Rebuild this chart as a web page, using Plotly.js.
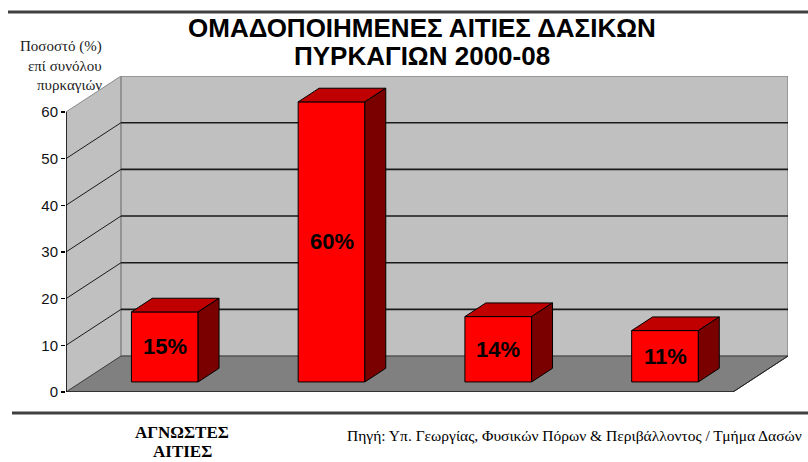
<!DOCTYPE html>
<html>
<head>
<meta charset="utf-8">
<script src="https://cdn.plot.ly/plotly-3.0.1.min.js"></script>
<style>html,body{margin:0;padding:0;background:#fff;}#chart{width:808px;height:462px;}</style>
</head>
<body>
<div id="chart"></div>
<script>
// ---- data ----
const categories = ["ΑΓΝΩΣΤΕΣ<br>ΑΙΤΙΕΣ", "", "", ""];
const values = [15, 60, 14, 11];
const valueLabels = ["15%", "60%", "14%", "11%"];
const yTicks = [0, 10, 20, 30, 40, 50, 60];
const titleLines = ["ΟΜΑΔΟΠΟΙΗΜΕΝΕΣ ΑΙΤΙΕΣ ΔΑΣΙΚΩΝ", "ΠΥΡΚΑΓΙΩΝ 2000-08"];
const yTitleLines = ["Ποσοστό (%)", "επί συνόλου", "πυρκαγιών"];
const sourceText = "Πηγή: Υπ. Γεωργίας, Φυσικών Πόρων & Περιβάλλοντος / Τμήμα Δασών";

// ---- geometry / style ----
const W = 808, H = 462, ML = 66, MR = 20, MT = 76, MB = 70;
const PW = W - ML - MR, PH = H - MT - MB;
const N = values.length;
const YMAX = yTicks[yTicks.length - 1];
const DX = 0.33, DY = 7.7;      // depth projection (x in category units, y in %)
const F0 = 0.28, F1 = 0.66;     // bar front/back depth fractions
const BW = 0.40;                // bar width in category units
const px = x => (x - ML) / PW;
const py = y => (H - MB - y) / PH;
const SANS = "Liberation Sans, Arial, sans-serif";
const SERIF = "Liberation Serif, Times New Roman, serif";

const shapes = [];
// left wall
shapes.push({type: "path", xref: "x", yref: "y", layer: "below",
  path: `M0,0 L${DX},${DY} L${DX},${YMAX + DY} L0,${YMAX} Z`,
  fillcolor: "#c0c0c0", line: {color: "#8a8a8a", width: 1}});
// back wall
shapes.push({type: "rect", xref: "x", yref: "y", layer: "below",
  x0: DX, x1: N + DX, y0: DY, y1: YMAX + DY,
  fillcolor: "#c0c0c0", line: {color: "#8a8a8a", width: 1.5}});
// floor
shapes.push({type: "path", xref: "x", yref: "y", layer: "below",
  path: `M0,0 L${N},0 L${N + DX},${DY} L${DX},${DY} Z`,
  fillcolor: "#808080", line: {color: "#404040", width: 1}});
// gridlines
yTicks.filter(v => v > 0 && v < YMAX).forEach(v => {
  shapes.push({type: "line", xref: "x", yref: "y", layer: "below",
    x0: DX, x1: N + DX, y0: v + DY, y1: v + DY, line: {color: "#1a1a1a", width: 1.6}});
  shapes.push({type: "line", xref: "x", yref: "y", layer: "below",
    x0: 0, x1: DX, y0: v, y1: v + DY, line: {color: "#1a1a1a", width: 1}});
});
// floor front edge and right edge
shapes.push({type: "line", xref: "x", yref: "y", layer: "below",
  x0: 0, x1: N, y0: 0, y1: 0, line: {color: "#222", width: 1.5}});
shapes.push({type: "line", xref: "x", yref: "y", layer: "below",
  x0: N, x1: N + DX, y0: 0, y1: DY, line: {color: "#222", width: 1}});
// value axis line
shapes.push({type: "line", xref: "x", yref: "y", layer: "above",
  x0: 0, x1: 0, y0: 0, y1: YMAX, line: {color: "#000", width: 1.5}});
// page rules
shapes.push({type: "line", xref: "paper", yref: "paper",
  x0: px(8), x1: px(808), y0: py(12), y1: py(12), line: {color: "#404040", width: 3}});
shapes.push({type: "line", xref: "paper", yref: "paper",
  x0: px(12), x1: px(808), y0: py(413), y1: py(413), line: {color: "#404040", width: 3}});

const traces = [];
const b0 = F0 * DY, ddx = (F1 - F0) * DX, ddy = (F1 - F0) * DY;
const xFront = values.map((v, i) => i + 0.5 + F0 * DX);
traces.push({type: "bar", x: xFront, y: values, base: values.map(() => b0), width: BW,
  marker: {color: "#ff0000", line: {color: "#000", width: 1}}, hoverinfo: "skip", showlegend: false});
values.forEach((v, i) => {
  const xl = xFront[i] - BW / 2, xr = xFront[i] + BW / 2, yt = b0 + v;
  traces.push({type: "scatter", mode: "lines", fill: "toself", fillcolor: "#c00000",
    x: [xl, xr, xr + ddx, xl + ddx, xl], y: [yt, yt, yt + ddy, yt + ddy, yt],
    line: {color: "#000", width: 1}, hoverinfo: "skip", showlegend: false});
  traces.push({type: "scatter", mode: "lines", fill: "toself", fillcolor: "#7a0000",
    x: [xr, xr + ddx, xr + ddx, xr, xr], y: [b0, b0 + ddy, yt + ddy, yt, b0],
    line: {color: "#000", width: 1}, hoverinfo: "skip", showlegend: false});
});

const annotations = [];
titleLines.forEach((t, k) => annotations.push({xref: "paper", yref: "paper",
  x: px(422), y: py(k === 0 ? 28 : 56), text: t, showarrow: false,
  xanchor: "center", yanchor: "middle",
  font: {family: SANS, size: 26, weight: "bold", color: "#000"}}));
yTitleLines.forEach((t, k) => annotations.push({xref: "paper", yref: "paper",
  x: px(104), y: py(47 + k * 19), text: t, showarrow: false,
  xanchor: "right", yanchor: "middle",
  font: {family: SERIF, size: 15, color: "#222"}}));
values.forEach((v, i) => annotations.push({xref: "x", yref: "y",
  x: xFront[i], y: b0 + v / 2, text: valueLabels[i], showarrow: false,
  xanchor: "center", yanchor: "middle",
  font: {family: SANS, size: 22, weight: "bold", color: "#000"}}));
categories.forEach((c, i) => {
  c.split("<br>").filter(s => s).forEach((s, k) => annotations.push({xref: "x", yref: "paper",
    x: i + 0.5, xshift: 33, y: py(432 + k * 19), text: s, showarrow: false,
    xanchor: "center", yanchor: "middle",
    font: {family: SERIF, size: 17, weight: "bold", color: "#000"}}));
});
annotations.push({xref: "paper", yref: "paper", x: px(804), y: py(435), text: sourceText,
  showarrow: false, xanchor: "right", yanchor: "middle",
  font: {family: SERIF, size: 15.5, color: "#000"}});

const layout = {
  width: W, height: H,
  margin: {l: ML, r: MR, t: MT, b: MB, pad: 0},
  paper_bgcolor: "#fff", plot_bgcolor: "rgba(0,0,0,0)",
  showlegend: false,
  xaxis: {range: [0, N + DX], visible: false, fixedrange: true},
  yaxis: {range: [0, YMAX + DY], tickvals: yTicks, ticks: "outside", ticklen: 4, tickwidth: 1.5,
    tickcolor: "#000", showgrid: false, zeroline: false, showline: false, fixedrange: true,
    tickfont: {family: SANS, size: 15, color: "#111"}},
  shapes: shapes,
  annotations: annotations
};
Plotly.newPlot("chart", traces, layout, {staticPlot: true, displayModeBar: false});
</script>
</body>
</html>
